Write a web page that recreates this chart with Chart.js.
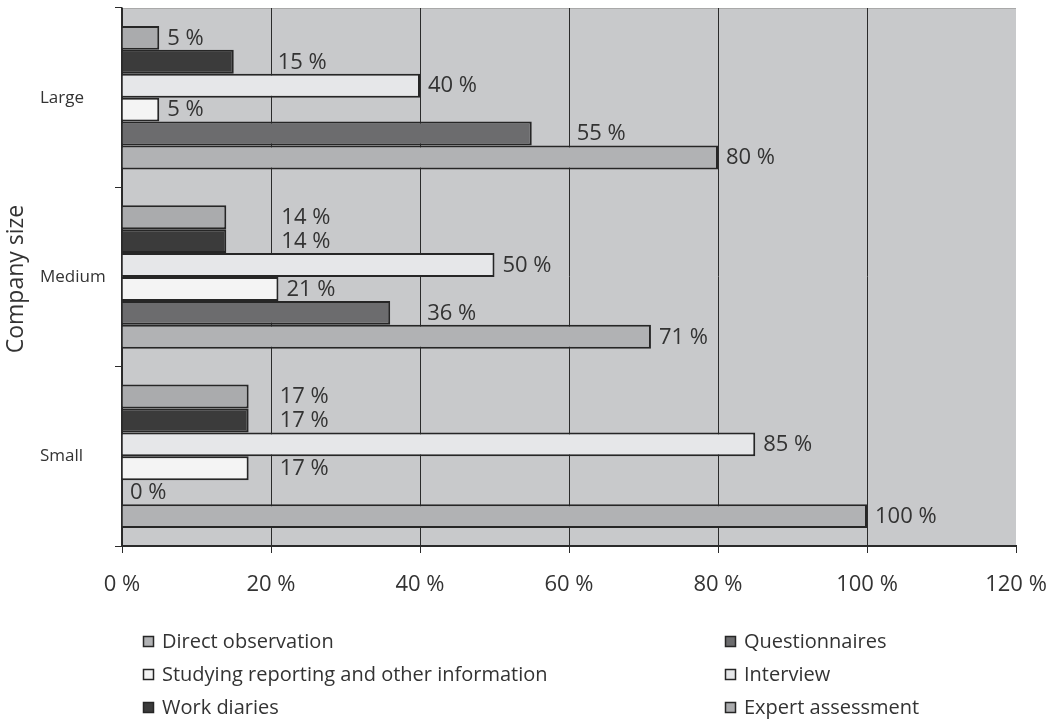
<!DOCTYPE html>
<html>
<head>
<meta charset="utf-8">
<script src="https://cdn.jsdelivr.net/npm/chart.js@4/dist/chart.umd.min.js"></script>
<style>
  html, body { margin: 0; padding: 0; background: #ffffff; }
  #wrap { width: 1051px; height: 720px; position: relative; }
</style>
</head>
<body>
<div id="wrap"><canvas id="chart" width="1051" height="720"></canvas></div>
<script>
// Share of companies using each method, by company size (top to bottom: Large, Medium, Small)
const companySizes = ['Large', 'Medium', 'Small'];
const directObservation = [80, 71, 100];
const questionnaires = [55, 36, 0];
const studyingReporting = [5, 21, 17];
const interview = [40, 50, 85];
const workDiaries = [15, 14, 17];
const expertAssessment = [5, 14, 17];
const xTickValues = [0, 20, 40, 60, 80, 100, 120];

const FONT = '"Open Sans", "DejaVu Sans", sans-serif';
const TEXT = '#333333';
const INK = '#262626';

// Bars are listed top-to-bottom within each company-size group
const datasets = [
  { label: 'Expert assessment', data: expertAssessment, backgroundColor: '#aaabad' },
  { label: 'Work diaries', data: workDiaries, backgroundColor: '#3b3b3b' },
  { label: 'Interview', data: interview, backgroundColor: '#e6e7e9' },
  { label: 'Studying reporting and other information', data: studyingReporting, backgroundColor: '#f4f4f4' },
  { label: 'Questionnaires', data: questionnaires, backgroundColor: '#6c6c6e' },
  { label: 'Direct observation', data: directObservation, backgroundColor: '#b1b2b4' }
].map(d => Object.assign(d, { borderColor: INK, borderWidth: 2, categoryPercentage: 0.8, barPercentage: 1 }));

// Legend reading order (two columns, row by row)
const legendOrder = ['Direct observation', 'Questionnaires', 'Studying reporting and other information',
                     'Interview', 'Work diaries', 'Expert assessment'];

// Horizontal nudges (px) for value labels that sit away from their bar end
const labelNudge = {
  'Work diaries': [36, 47, 23],
  'Expert assessment': [0, 47, 23],
  'Questionnaires': [37, 29, 0],
  'Studying reporting and other information': [0, 0, 23]
};

const plotBackground = {
  id: 'plotBackground',
  beforeDraw(chart) {
    const { ctx, chartArea: a } = chart;
    ctx.save();
    ctx.fillStyle = '#c8c9cb';
    ctx.fillRect(a.left, a.top, a.right - a.left, a.bottom - a.top);
    ctx.strokeStyle = '#a9a9a9';
    ctx.lineWidth = 1;
    ctx.beginPath();
    ctx.moveTo(a.left, a.top + 0.5);
    ctx.lineTo(a.right, a.top + 0.5);
    ctx.stroke();
    ctx.restore();
  }
};

const valueLabels = {
  id: 'valueLabels',
  afterDatasetsDraw(chart) {
    const ctx = chart.ctx;
    ctx.save();
    ctx.font = '22px ' + FONT;
    ctx.fillStyle = TEXT;
    ctx.textAlign = 'left';
    ctx.textBaseline = 'middle';
    chart.data.datasets.forEach((ds, di) => {
      const meta = chart.getDatasetMeta(di);
      meta.data.forEach((bar, i) => {
        const nudge = (labelNudge[ds.label] || [0, 0, 0])[i];
        ctx.fillText(ds.data[i] + ' %', bar.x + 8 + nudge, bar.y + 0.5);
      });
    });
    ctx.restore();
  }
};

const sideTitle = {
  id: 'sideTitle',
  afterDraw(chart) {
    const ctx = chart.ctx;
    const a = chart.chartArea;
    ctx.save();
    ctx.translate(16, (a.top + a.bottom) / 2 + 2);
    ctx.rotate(-Math.PI / 2);
    ctx.font = '23px ' + FONT;
    ctx.fillStyle = TEXT;
    ctx.textAlign = 'center';
    ctx.textBaseline = 'middle';
    ctx.fillText('Company size', 0, 0);
    ctx.restore();
  }
};

const columnLegend = {
  id: 'columnLegend',
  afterDraw(chart) {
    const ctx = chart.ctx;
    const colX = [143, 725];
    const rowY = [641, 674, 707];
    ctx.save();
    ctx.font = '20px ' + FONT;
    ctx.textAlign = 'left';
    ctx.textBaseline = 'middle';
    legendOrder.forEach((name, k) => {
      const ds = chart.data.datasets.find(d => d.label === name);
      const x = colX[k % 2];
      const y = rowY[Math.floor(k / 2)];
      ctx.fillStyle = ds.backgroundColor;
      ctx.fillRect(x, y - 5, 11, 11);
      ctx.strokeStyle = INK;
      ctx.lineWidth = 1.5;
      ctx.strokeRect(x + 0.5, y - 4.5, 10, 10);
      ctx.fillStyle = TEXT;
      ctx.fillText(name, x + 19, y + 1);
    });
    ctx.restore();
  }
};

function draw() {
  new Chart(document.getElementById('chart'), {
    type: 'bar',
    data: { labels: companySizes, datasets },
    options: {
      indexAxis: 'y',
      responsive: false,
      animation: false,
      devicePixelRatio: 1,
      layout: { padding: { top: 8, left: 40, right: 35, bottom: 114 } },
      plugins: { legend: { display: false }, tooltip: { enabled: false } },
      scales: {
        x: {
          min: 0,
          max: 120,
          afterBuildTicks(scale) { scale.ticks = xTickValues.map(v => ({ value: v })); },
          afterFit(scale) {
            scale.height = 60;
            scale.paddingLeft = 0;
            scale.paddingRight = 0;
          },
          ticks: {
            callback: v => v + ' %',
            font: { family: FONT, size: 22 },
            color: TEXT,
            padding: 19,
            maxRotation: 0
          },
          grid: {
            color: c => (c.tick && c.tick.value === 120) ? 'rgba(0,0,0,0)' : '#2b2b2b',
            tickColor: '#2b2b2b',
            tickLength: 7,
            lineWidth: 1
          },
          border: { display: true, color: '#2b2b2b', width: 2 }
        },
        y: {
          offset: true,
          afterFit(scale) {
            scale.width = 82;
            scale.paddingTop = 0;
            scale.paddingBottom = 0;
          },
          ticks: {
            crossAlign: 'far',
            font: { family: FONT, size: 17 },
            color: TEXT
          },
          grid: {
            offset: true,
            drawOnChartArea: false,
            tickColor: '#2b2b2b',
            tickLength: 7
          },
          border: { display: true, color: '#2b2b2b', width: 1.5 }
        }
      }
    },
    plugins: [plotBackground, valueLabels, sideTitle, columnLegend]
  });
}

if (document.fonts && document.fonts.load) {
  Promise.all([
    document.fonts.load('22px "Open Sans"'),
    document.fonts.load('17px "Open Sans"')
  ]).then(draw, draw);
} else {
  draw();
}
</script>
</body>
</html>
